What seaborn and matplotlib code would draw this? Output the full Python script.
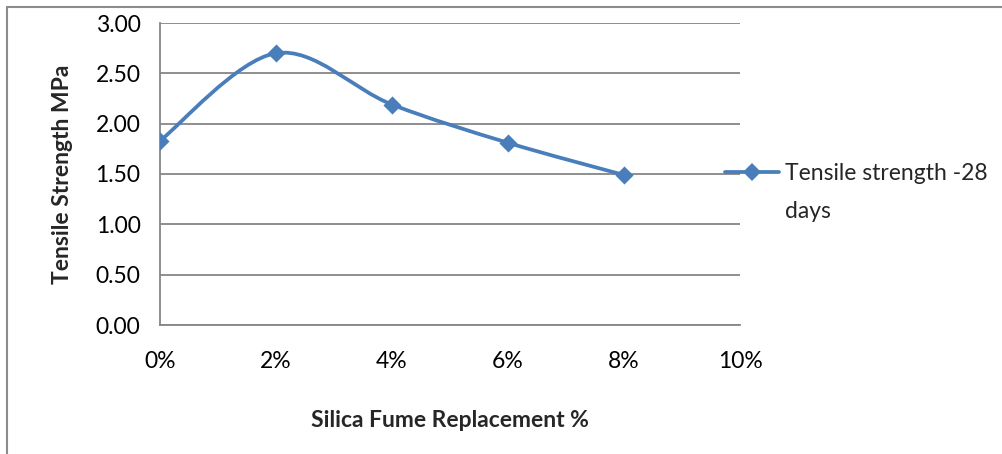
import numpy as np
import pandas as pd
import seaborn as sns
import matplotlib.pyplot as plt
from matplotlib.path import Path
from matplotlib.patches import PathPatch
from matplotlib.lines import Line2D

# Data
replacement = [0, 2, 4, 6, 8]          # silica fume replacement, %
tensile = [1.83, 2.70, 2.19, 1.81, 1.49]  # tensile strength, MPa
x_ticks = [0, 2, 4, 6, 8, 10]
x_tick_labels = ["0%", "2%", "4%", "6%", "8%", "10%"]
y_ticks = [0.0, 0.5, 1.0, 1.5, 2.0, 2.5, 3.0]
series_name = ["Tensile strength -28", "days"]   # legend label, wrapped as in the chart

BLUE = "#4A7EBB"
GRID = "#868686"


def smooth_path(xs, ys):
    """Excel-like smoothed line: cubic Bezier segments (Catmull-Rom control points)."""
    pts = np.column_stack([xs, ys]).astype(float)
    n = len(pts)
    verts = [pts[0]]
    codes = [Path.MOVETO]
    for i in range(n - 1):
        p0 = pts[i - 1] if i > 0 else pts[i]
        p1, p2 = pts[i], pts[i + 1]
        p3 = pts[i + 2] if i + 2 < n else pts[i + 1]
        c1 = p1 + (p2 - p0) / 6.0
        c2 = p2 - (p3 - p1) / 6.0
        verts += [c1, c2, p2]
        codes += [Path.CURVE4] * 3
    return Path(verts, codes)


def main():
    sns.set_theme(style="white")
    plt.rcParams["font.family"] = ["Lato", "DejaVu Sans"]

    df = pd.DataFrame({"replacement": replacement, "tensile": tensile})

    fig = plt.figure(figsize=(10.03, 4.54), dpi=100)
    ax = fig.add_axes([160 / 1003, 1 - 325 / 454, 580 / 1003, 302 / 454])

    # smoothed line + diamond markers
    ax.add_patch(PathPatch(smooth_path(df["replacement"], df["tensile"]),
                           facecolor="none", edgecolor=BLUE, lw=2.7,
                           capstyle="round", joinstyle="round", zorder=3))
    sns.scatterplot(data=df, x="replacement", y="tensile", ax=ax, marker="D",
                    s=85, color=BLUE, edgecolor=BLUE, linewidth=0, zorder=4)

    ax.set_xlim(0, 10)
    ax.set_ylim(0, 3)
    ax.set_xticks(x_ticks)
    ax.set_xticklabels(x_tick_labels)
    ax.set_yticks(y_ticks)
    ax.set_yticklabels([f"{v:.2f}" for v in y_ticks])
    ax.yaxis.grid(True, color=GRID, lw=1.3)
    ax.set_axisbelow(True)

    for side in ["top", "right"]:
        ax.spines[side].set_visible(False)
    for side in ["left", "bottom"]:
        ax.spines[side].set_color(GRID)
        ax.spines[side].set_linewidth(1.3)

    ax.tick_params(axis="both", direction="out", length=6, width=1.3,
                   color=GRID, labelsize=16.5, labelcolor="black")
    ax.tick_params(axis="x", pad=13)
    ax.tick_params(axis="y", pad=8)

    ax.set_xlabel("Silica Fume Replacement %", fontsize=16.5, fontweight="bold",
                  labelpad=27)
    ax.set_ylabel("Tensile Strength MPa", fontsize=16.5, fontweight="bold",
                  labelpad=16)

    # legend: handle + first line, then the wrapped second line below it
    handle = Line2D([0], [0], color=BLUE, lw=2.7, marker="D", markersize=9,
                    markeredgewidth=0)
    ax.legend([handle], [series_name[0]], loc="center left",
              bbox_to_anchor=(0.974, 0.5), frameon=False, fontsize=16.5,
              handlelength=2.35, handletextpad=0.25, borderpad=0,
              borderaxespad=0)
    ax.text((785 - 160) / 580, (325 - 211) / 302, series_name[1],
            transform=ax.transAxes, fontsize=16.5, ha="left", va="center")

    # outer chart border (left and top edges visible in the reference)
    fig.add_artist(Line2D([7 / 1003, 7 / 1003], [0, 1 - 7 / 454],
                          transform=fig.transFigure, color="#8c8c8c", lw=1.5))
    fig.add_artist(Line2D([7 / 1003, 1], [1 - 7 / 454, 1 - 7 / 454],
                          transform=fig.transFigure, color="#8c8c8c", lw=1.5))

    fig.savefig("out.png", dpi=100)


if __name__ == "__main__":
    main()
